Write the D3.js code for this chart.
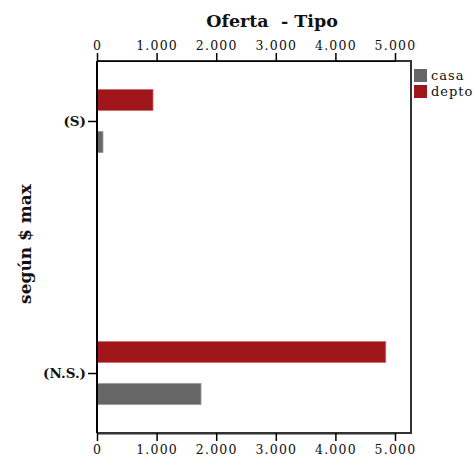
<!DOCTYPE html>
<html>
<head>
<meta charset="utf-8">
<script src="https://cdn.jsdelivr.net/npm/d3@7"></script>
<style>
  body { margin: 0; background: #fff; }
  svg { display: block; }
  text { font-family: "DejaVu Serif", "Liberation Serif", serif; }
</style>
</head>
<body>
<svg id="chart" width="473" height="457"></svg>
<script>
// Offer counts per price segment, split by property type
const categories = ["(S)", "(N.S.)"];
const seriesNames = ["casa", "depto"];
const casaValues = [100, 1745];
const deptoValues = [940, 4845];
const tickValues = [0, 1000, 2000, 3000, 4000, 5000];
const tickLabels = ["0", "1.000", "2.000", "3.000", "4.000", "5.000"];
const colors = { casa: "#666666", depto: "#a0161a" };
const strokes = { casa: "#9a9a9a", depto: "#d06a6d" };

const svg = d3.select("#chart");
const plotLeft = 97, plotRight = 411, plotTop = 61, plotBottom = 433;

const x = d3.scaleLinear().domain([0, 5000]).range([plotLeft, 395]);
const y = d3.scalePoint().domain(categories).range([plotTop, plotBottom]).padding(0.238);
// depto drawn above casa within each category
const sub = d3.scaleBand().domain(["depto", "casa"]).range([-31.5, 31.5]).paddingInner(0.5);

const rows = categories.map((c, i) => ({ cat: c, casa: casaValues[i], depto: deptoValues[i] }));

// plot frame: right and bottom edges
svg.append("path")
  .attr("d", `M${plotLeft},${plotTop}H${plotRight}V${plotBottom}H${plotLeft}`)
  .attr("fill", "none").attr("stroke", "#333").attr("stroke-width", 2);

// bars
const g = svg.append("g");
rows.forEach(r => {
  seriesNames.forEach(s => {
    g.append("rect")
      .attr("x", x(0))
      .attr("y", y(r.cat) + sub(s))
      .attr("width", x(r[s]) - x(0))
      .attr("height", sub.bandwidth())
      .attr("fill", colors[s])
      .attr("stroke", strokes[s])
      .attr("stroke-width", 0.8);
  });
});

// top and bottom value axes
const fmt = d => tickLabels[tickValues.indexOf(d)];
const topAxis = svg.append("g").attr("transform", `translate(0,${plotTop})`)
  .call(d3.axisTop(x).tickValues(tickValues).tickFormat(fmt).tickSize(8).tickPadding(3).tickSizeOuter(0));
const botAxis = svg.append("g").attr("transform", `translate(0,${plotBottom})`)
  .call(d3.axisBottom(x).tickValues(tickValues).tickFormat(fmt).tickSize(8).tickPadding(4).tickSizeOuter(0));
[topAxis, botAxis].forEach(a => {
  a.select(".domain").attr("stroke", "#000").attr("stroke-width", 1.2);
  a.selectAll(".tick line").attr("stroke", "#000").attr("stroke-width", 1.5);
  a.selectAll(".tick text")
    .attr("font-family", "DejaVu Serif, serif")
    .attr("font-size", 12.5)
    .attr("letter-spacing", 1.2)
    .attr("fill", "#111");
});
botAxis.select(".domain").attr("stroke", "#333").attr("stroke-width", 2);

// category axis
const leftAxis = svg.append("g").attr("transform", `translate(${plotLeft},0)`)
  .call(d3.axisLeft(y).tickSize(9).tickPadding(2).tickSizeOuter(0));
leftAxis.select(".domain").attr("d", `M0,${plotTop}V${plotBottom}`).attr("stroke", "#000").attr("stroke-width", 2);
leftAxis.selectAll(".tick line").attr("stroke", "#000").attr("stroke-width", 1.5);
leftAxis.selectAll(".tick text")
  .attr("font-family", "DejaVu Serif, serif")
  .attr("font-size", 13.5)
  .attr("font-weight", "bold")
  .attr("fill", "#111");

// title
svg.append("text")
  .attr("x", 272).attr("y", 27)
  .attr("text-anchor", "middle")
  .style("white-space", "pre")
  .attr("font-size", 17.5).attr("font-weight", "bold").attr("fill", "#111")
  .text("Oferta  - Tipo");

// y axis title
svg.append("text")
  .attr("transform", `translate(31,244) rotate(-90)`)
  .attr("text-anchor", "middle")
  .attr("font-size", 17).attr("font-weight", "bold").attr("fill", "#111")
  .text("según $ max");

// legend
const legend = svg.append("g").attr("transform", "translate(414,69)");
seriesNames.forEach((s, i) => {
  legend.append("rect")
    .attr("x", 0).attr("y", i * 16)
    .attr("width", 13).attr("height", 13)
    .attr("fill", colors[s]);
  legend.append("text")
    .attr("x", 17).attr("y", i * 16 + 11)
    .attr("font-size", 13).attr("letter-spacing", 1).attr("fill", "#111")
    .text(s);
});
</script>
</body>
</html>
